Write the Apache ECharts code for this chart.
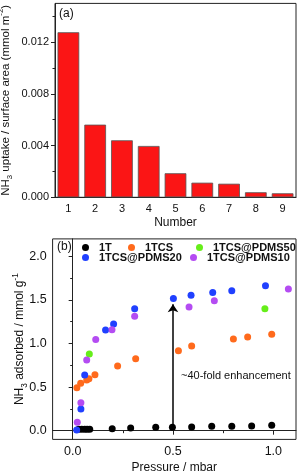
<!DOCTYPE html>
<html><head><meta charset="utf-8">
<script src="https://cdn.jsdelivr.net/npm/echarts@6/dist/echarts.min.js"></script>
<style>html,body{margin:0;padding:0;background:#fff}#c{width:298px;height:471px}</style>
</head><body><div id="c"></div>
<script>
// Panel (a)
const barCategories = ['1','2','3','4','5','6','7','8','9'];
const barValues = [0.01277, 0.00562, 0.00441, 0.00397, 0.00186, 0.00113, 0.00105, 0.00039, 0.00031];
const aYTicks = [0, 0.004, 0.008, 0.012];
const aYMinor = [0.002, 0.006, 0.010, 0.014];
// Panel (b)
const s1T = [[0.03,0.016],[0.045,0.016],[0.06,0.016],[0.072,0.016],[0.085,0.017],[0.197,0.023],[0.289,0.031],[0.414,0.039],[0.497,0.040],[0.593,0.042],[0.693,0.050],[0.793,0.050],[0.892,0.054],[0.992,0.062]];
const s1TCS = [[0.021,0.493],[0.040,0.543],[0.070,0.581],[0.081,0.596],[0.111,0.642],[0.224,0.742],[0.314,0.826],[0.527,0.917],[0.593,0.971],[0.801,1.052],[0.872,1.075],[0.992,1.105]];
const sPDMS50 = [[0.083,0.880],[0.958,1.400]];
const sPDMS20 = [[0.020,0.008],[0.041,0.249],[0.060,0.639],[0.164,1.155],[0.204,1.225],[0.309,1.399],[0.502,1.517],[0.590,1.553],[0.698,1.586],[0.793,1.605],[0.961,1.662]];
const sPDMS10 = [[0.023,0.096],[0.041,0.321],[0.070,0.811],[0.115,1.047],[0.196,1.158],[0.309,1.312],[0.580,1.419],[0.706,1.491],[1.075,1.625]];
const bXTicks = [0, 0.5, 1.0];
const bXMinor = [0.25, 0.75];
const bYTicks = [0, 0.5, 1.0, 1.5, 2.0];
const bYMinor = [0.25, 0.75, 1.25, 1.75];
const seriesNames = ['1T','1TCS','1TCS@PDMS50','1TCS@PDMS20','1TCS@PDMS10'];
const seriesColors = ['#000000','#ff6a1c','#66ee1a','#2040ff','#b44cf2'];

const FONT = 'Liberation Sans, Arial, sans-serif';
const AX = '#222';
const chart = echarts.init(document.getElementById('c'), null, {renderer:'canvas'});

function richSet(fs){
  return {
    n:{fontSize:fs, fontFamily:FONT, color:'#111', lineHeight:17},
    s:{fontSize:fs*0.68, fontFamily:FONT, color:'#111', verticalAlign:'bottom', lineHeight:8},
    p:{fontSize:fs*0.68, fontFamily:FONT, color:'#111', verticalAlign:'top', lineHeight:8}
  };
}

function scat(i, data){
  return {type:'scatter', name:seriesNames[i], xAxisIndex:1, yAxisIndex:2, data:data,
    symbol:'circle', symbolSize:7, itemStyle:{color:seriesColors[i], opacity:1}, z:3};
}
const legendPos = [[82,242],[128,242],[196,242],[82,252],[190,252]];
const legends = seriesNames.map((n,i)=>({
  data:[{name:n, icon:'circle'}], left:legendPos[i][0], top:legendPos[i][1],
  itemWidth:7, itemHeight:7, padding:0, selectedMode:false,
  textStyle:{fontSize:11, fontWeight:'bold', fontFamily:FONT, color:'#111', padding:[0,0,0,5]}
}));

const sT = scat(0, s1T);
sT.markLine = {silent:true, symbol:['none','arrow'], symbolSize:8, animation:false,
  lineStyle:{color:'#000', width:1.5, type:'solid'}, label:{show:false},
  data:[[{coord:[0.5,0.045]},{coord:[0.5,1.45]}]]};

const option = {
  animation:false,
  legend: legends,
  grid:[
    {left:55, top:3.4, right:2, height:193.9, show:true, borderColor:AX, borderWidth:1, containLabel:false, outerBoundsMode:'none'},
    {left:52.6, top:238.9, right:2, height:200.5, show:true, borderColor:AX, borderWidth:1, containLabel:false, outerBoundsMode:'none'}
  ],
  xAxis:[
    {type:'category', gridIndex:0, data:barCategories, boundaryGap:true,
     axisLine:{lineStyle:{color:AX}}, axisTick:{alignWithLabel:true, length:4, lineStyle:{color:AX}},
     axisLabel:{fontSize:11, fontFamily:FONT, color:'#111', margin:6},
     name:'Number', nameLocation:'middle', nameGap:19, nameMoveOverlap:false,
     nameTextStyle:{fontSize:12, fontFamily:FONT, color:'#111'}},
    {type:'value', gridIndex:1, min:-0.1, max:1.113,
     axisLine:{lineStyle:{color:AX}}, splitLine:{show:false},
     axisTick:{customValues:bXTicks, length:4, lineStyle:{color:AX}},
     axisLabel:{customValues:bXTicks, fontSize:12.5, fontFamily:FONT, color:'#111', margin:6, formatter:v=>v.toFixed(1)},
     name:'Pressure / mbar', nameLocation:'middle', nameGap:22, nameMoveOverlap:false,
     nameTextStyle:{fontSize:12, fontFamily:FONT, color:'#111'}},
    {type:'value', gridIndex:1, min:-0.1, max:1.113, position:'bottom',
     axisLine:{show:false}, splitLine:{show:false}, axisLabel:{show:false},
     axisTick:{customValues:bXMinor, length:2.5, lineStyle:{color:AX}}}
  ],
  yAxis:[
    {type:'value', gridIndex:0, min:0, max:0.015,
     axisLine:{show:true, lineStyle:{color:AX}}, splitLine:{show:false},
     axisTick:{show:true, customValues:aYTicks, length:4, lineStyle:{color:AX}},
     axisLabel:{customValues:aYTicks, fontSize:11, fontFamily:FONT, color:'#111', margin:6, formatter:v=>v.toFixed(3)},
     name:'{n|NH}{s|3}{n| uptake / surface area (mmol m}{p|-2}{n|)}', nameLocation:'middle', nameGap:41,
     nameMoveOverlap:false, nameTextStyle:{rich:richSet(11.5)}},
    {type:'value', gridIndex:0, min:0, max:0.015, position:'left',
     axisLine:{show:false}, splitLine:{show:false}, axisLabel:{show:false},
     axisTick:{show:true, customValues:aYMinor, length:2.5, lineStyle:{color:AX}}},
    {type:'value', gridIndex:1, min:-0.1, max:2.2,
     axisLine:{show:true, lineStyle:{color:AX}}, splitLine:{show:false},
     axisTick:{show:true, customValues:bYTicks, length:4, lineStyle:{color:AX}},
     axisLabel:{customValues:bYTicks, fontSize:12.5, fontFamily:FONT, color:'#111', margin:6, formatter:v=>v.toFixed(1)},
     name:'{n|NH}{s|3}{n| adsorbed / mmol g}{p|-1}', nameLocation:'middle', nameGap:24,
     nameMoveOverlap:false, nameTextStyle:{rich:richSet(12)}},
    {type:'value', gridIndex:1, min:-0.1, max:2.2, position:'left',
     axisLine:{show:false}, splitLine:{show:false}, axisLabel:{show:false},
     axisTick:{show:true, customValues:bYMinor, length:2.5, lineStyle:{color:AX}}}
  ],
  series:[
    {type:'bar', xAxisIndex:0, yAxisIndex:0, data:barValues, barCategoryGap:'19%',
     itemStyle:{color:'#fb1515', borderColor:'#555', borderWidth:0.8}},
    sT,
    scat(1, s1TCS),
    scat(2, sPDMS50),
    scat(3, sPDMS20),
    scat(4, sPDMS10)
  ],
  graphic:[
    {type:'text', left:59, top:8, style:{text:'(a)', fontSize:12, fontFamily:FONT, fill:'#111'}},
    {type:'text', left:57, top:241, style:{text:'(b)', fontSize:12, fontFamily:FONT, fill:'#111'}},
    {type:'text', left:181, top:370, style:{text:'~40-fold enhancement', fontSize:11, fontFamily:FONT, fill:'#111'}}
  ]
};
chart.setOption(option);
</script></body></html>
